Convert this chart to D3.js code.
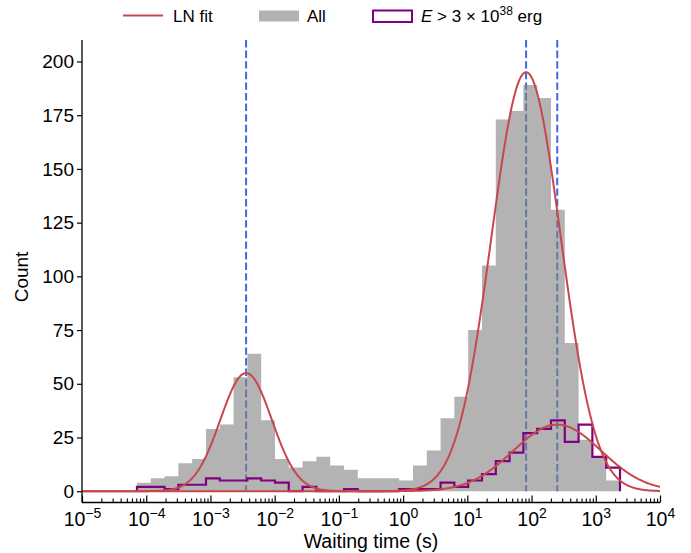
<!DOCTYPE html>
<html lang="en">
<head>
<meta charset="utf-8">
<title>Waiting time distribution</title>
<script src="https://d3js.org/d3.v7.min.js"></script>
<style>
  body { margin: 0; background: #fff; }
  svg text { font-family: "Liberation Sans", Arial, Helvetica, sans-serif; fill: #000; }
</style>
</head>
<body>
<svg width="691" height="553"></svg>
<script>
// histogram: log-spaced bins between 10^binLo and 10^binHi (seconds)
var binLo = -4.144, binHi = 3.377;
var countsAll = [4, 6, 7, 13, 15, 29, 31, 53, 64, 33,
                 15, 11, 14, 16, 12, 10, 6, 6, 6, 5,
                 12, 19, 34, 44, 75, 105, 173, 177, 189, 183,
                 131, 69, 24, 16, 5];
var countsHigh = [2, 2, 1, 3, 3, 6, 5, 5, 6, 5,
                  4, 0, 2, 0, 0, 1, 0, 0, 0, 1,
                  1, 1, 4, 2, 5, 8, 14, 18, 27, 29,
                  33, 23, 31, 16, 11];

// log-normal fits: centre (log10 s), width (dex), peak count
var fitAllMu = [-2.445, 1.915], fitAllSigma = [0.40, 0.54], fitAllPeak = [55, 195];
var fitHighMu = [2.40], fitHighSigma = [0.685], fitHighPeak = [31];
var peakLines = [-2.445, 1.915, 2.40];

var yTicks = [0, 25, 50, 75, 100, 125, 150, 175, 200];
var xDecades = [-5, -4, -3, -2, -1, 0, 1, 2, 3, 4];

var svg = d3.select("svg");
var plotLeft = 82, plotRight = 660, plotTop = 40, plotBottom = 502.5;

var x = d3.scaleLog().domain([1e-5, 1e4]).range([plotLeft, plotRight]);
var y = d3.scaleLinear().domain([-5.25, 210]).range([plotBottom, plotTop]);

var nBins = countsAll.length;
var edges = d3.range(nBins + 1).map(function(i) {
    return Math.pow(10, binLo + i * (binHi - binLo) / nBins);
});

// dashed peak markers (under the translucent bars)
svg.append("g")
    .selectAll("line")
    .data(peakLines)
    .enter()
    .append("line")
    .attr("x1", function(d){ return x(Math.pow(10, d)); })
    .attr("x2", function(d){ return x(Math.pow(10, d)); })
    .attr("y1", plotTop)
    .attr("y2", y(0))
    .attr("stroke", "#4169e1")
    .attr("stroke-width", 2)
    .attr("stroke-dasharray", "7.4,3.2");

// gray histogram as one stepped area
var allPts = countsAll.map(function(c, i){ return [edges[i], c]; });
allPts.push([edges[nBins], countsAll[nBins - 1]]);
svg.append("path")
    .datum(allPts)
    .attr("d", d3.area()
        .curve(d3.curveStepAfter)
        .x(function(d){ return x(d[0]); })
        .y0(y(0))
        .y1(function(d){ return y(d[1]); }))
    .attr("fill", "#808080")
    .attr("fill-opacity", 0.6);

// purple step outline
var highPts = [[edges[0], 0]];
countsHigh.forEach(function(c, i){ highPts.push([edges[i], c]); });
highPts.push([edges[nBins], countsHigh[nBins - 1]]);
highPts.push([edges[nBins], 0]);
svg.append("path")
    .datum(highPts)
    .attr("d", d3.line()
        .curve(d3.curveStepAfter)
        .x(function(d){ return x(d[0]); })
        .y(function(d){ return y(d[1]); }))
    .attr("fill", "none")
    .attr("stroke", "#800080")
    .attr("stroke-width", 2.2);

// LN fit curves
function lnFit(mu, sigma, peak) {
    return d3.range(0, 901).map(function(i) {
        var lt = -5 + i * 0.01, v = 0;
        for (var k = 0; k < mu.length; k++) {
            var z = (lt - mu[k]) / sigma[k];
            v += peak[k] * Math.exp(-0.5 * z * z);
        }
        return [Math.pow(10, lt), v];
    });
}
var fitLine = d3.line()
    .x(function(d){ return x(d[0]); })
    .y(function(d){ return y(d[1]); });
[lnFit(fitAllMu, fitAllSigma, fitAllPeak), lnFit(fitHighMu, fitHighSigma, fitHighPeak)]
    .forEach(function(pts) {
        svg.append("path")
            .datum(pts)
            .attr("d", fitLine)
            .attr("fill", "none")
            .attr("stroke", "#c8474b")
            .attr("stroke-width", 2);
    });

// y axis
var yAxis = svg.append("g")
    .attr("transform", "translate(" + plotLeft + ",0)")
    .call(d3.axisLeft(y).tickValues(yTicks).tickSize(5).tickPadding(3));
yAxis.select(".domain").remove();
yAxis.selectAll("text").style("font-size", "19px");
yAxis.selectAll("line").attr("stroke-width", 1.2);

// x axis: inward ticks, minor ticks between decades
var minor = [];
xDecades.slice(0, -1).forEach(function(e) {
    for (var m = 2; m <= 9; m++) minor.push(m * Math.pow(10, e));
});
var xMinor = svg.append("g")
    .attr("transform", "translate(0," + plotBottom + ")")
    .call(d3.axisBottom(x).tickValues(minor).tickSize(-4).tickFormat(""));
xMinor.select(".domain").remove();
xMinor.selectAll("line").attr("stroke-width", 1.1);

var xAxis = svg.append("g")
    .attr("transform", "translate(0," + plotBottom + ")")
    .call(d3.axisBottom(x)
        .tickValues(xDecades.map(function(e){ return Math.pow(10, e); }))
        .tickSize(-7)
        .tickFormat(""));
xAxis.select(".domain").remove();
xAxis.selectAll("line").attr("stroke-width", 1.2);
xAxis.selectAll(".tick").append("text")
    .attr("y", 23.5)
    .attr("text-anchor", "middle")
    .style("font-size", "19.5px")
    .each(function(d, i) {
        var t = d3.select(this);
        t.append("tspan").text("10");
        t.append("tspan")
            .attr("dy", -8)
            .style("font-size", "14px")
            .text(String(xDecades[i]).replace("-", "\u2212"));
    });

// spines
svg.append("line").attr("x1", plotLeft).attr("x2", plotLeft).attr("y1", plotTop).attr("y2", plotBottom)
    .attr("stroke", "#000").attr("stroke-width", 1.3);
svg.append("line").attr("x1", plotLeft).attr("x2", plotRight).attr("y1", plotBottom).attr("y2", plotBottom)
    .attr("stroke", "#000").attr("stroke-width", 1.3);

// axis titles
svg.append("text")
    .attr("x", 371)
    .attr("y", 548)
    .attr("text-anchor", "middle")
    .style("font-size", "19.5px")
    .text("Waiting time (s)");
svg.append("text")
    .attr("transform", "translate(28,277) rotate(-90)")
    .attr("text-anchor", "middle")
    .style("font-size", "19px")
    .text("Count");

// legend
var lg = svg.append("g").style("font-size", "17px");
lg.append("line").attr("x1", 123).attr("x2", 163).attr("y1", 15.5).attr("y2", 15.5)
    .attr("stroke", "#c8474b").attr("stroke-width", 2);
lg.append("text").attr("x", 173).attr("y", 22).text("LN fit");
lg.append("rect").attr("x", 259).attr("y", 10.5).attr("width", 40).attr("height", 11)
    .attr("fill", "#808080").attr("fill-opacity", 0.6);
lg.append("text").attr("x", 307).attr("y", 22).text("All");
lg.append("rect").attr("x", 373).attr("y", 10.5).attr("width", 39).attr("height", 11.5)
    .attr("fill", "none").attr("stroke", "#800080").attr("stroke-width", 2);
var lt = lg.append("text").attr("x", 421).attr("y", 22);
lt.append("tspan").style("font-style", "italic").text("E");
lt.append("tspan").text(" > 3 \u00d7 10");
lt.append("tspan").attr("dy", -7).style("font-size", "12px").text("38");
lt.append("tspan").attr("dy", 7).text(" erg");
</script>
</body>
</html>
